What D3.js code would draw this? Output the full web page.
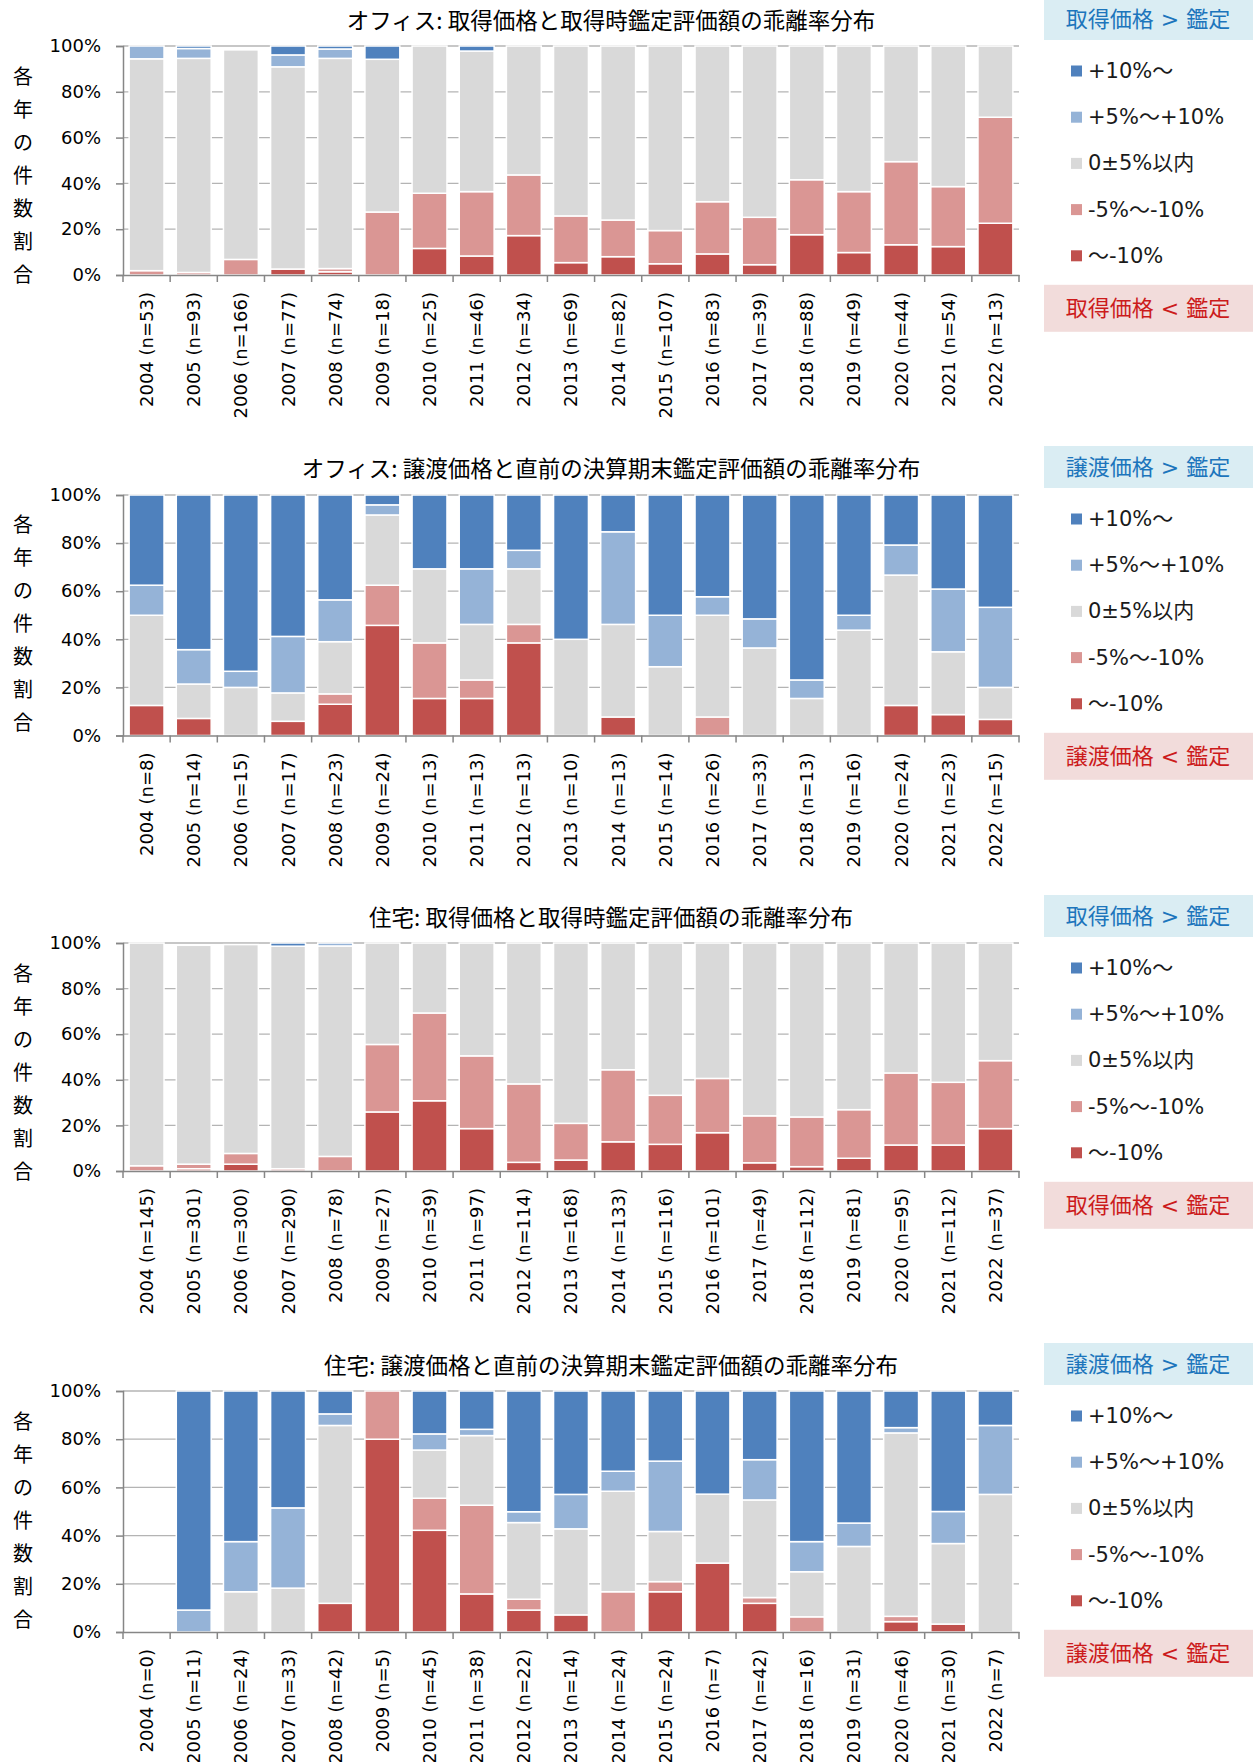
<!DOCTYPE html>
<html><head><meta charset="utf-8">
<script src="https://cdn.jsdelivr.net/npm/d3@7"></script>
<style>
body{margin:0;background:#fff;}
svg{display:block;}
</style></head><body>
<svg id="chart" width="1255" height="1762"></svg>
<script>
// ---------- shared data ----------
const years = ["2004","2005","2006","2007","2008","2009","2010","2011","2012","2013","2014","2015","2016","2017","2018","2019","2020","2021","2022"];
const seriesKeys = ["below10","minus5to10","within5","plus5to10","above10"];
const seriesLabels = ["～-10%","-5%～-10%","0±5%以内","+5%～+10%","+10%～"];
const seriesColors = ["#c0504d","#da9694","#d9d9d9","#95b3d7","#4f81bd"];
const yTicks = [0,20,40,60,80,100];
const yAxisTitle = "各年の件数割合";

// ---------- panel 1: office acquisition ----------
const p1Title = "オフィス: 取得価格と取得時鑑定評価額の乖離率分布";
const p1Upper = "取得価格 > 鑑定";
const p1Lower = "取得価格 < 鑑定";
const p1N = [53,93,166,77,74,18,25,46,34,69,82,107,83,39,88,49,44,54,13];
const p1Below10 = [0,0,0,2.6,1.4,0,11.6,8.3,17.2,5.4,8.0,4.9,9.2,4.5,17.6,9.8,13.2,12.4,22.6];
const p1Minus5to10 = [1.9,1.1,6.8,0,1.4,27.5,24.1,28.1,26.5,20.4,16.0,14.5,22.8,20.7,24.0,26.6,36.3,26.2,46.3];
const p1Within5 = [92.5,93.5,91.5,88.3,91.8,66.7,64.3,61.4,56.3,74.2,76.0,80.6,68.0,74.8,58.4,63.6,50.5,61.4,31.1];
const p1Plus5to10 = [5.6,4.3,0,5.2,4.1,0,0,0,0,0,0,0,0,0,0,0,0,0,0];
const p1Above10 = [0,1.1,0,3.9,1.3,5.8,0,2.2,0,0,0,0,0,0,0,0,0,0,0];

// ---------- panel 2: office disposition ----------
const p2Title = "オフィス: 譲渡価格と直前の決算期末鑑定評価額の乖離率分布";
const p2Upper = "譲渡価格 > 鑑定";
const p2Lower = "譲渡価格 < 鑑定";
const p2N = [8,14,15,17,23,24,13,13,13,10,13,14,26,33,13,16,24,23,15];
const p2Below10 = [12.5,7.1,0,5.9,13.0,45.8,15.4,15.4,38.5,0,7.7,0,0,0,0,0,12.5,8.7,6.7];
const p2Minus5to10 = [0,0,0,0,4.3,16.7,23.1,7.7,7.7,0,0,0,7.7,0,0,0,0,0,0];
const p2Within5 = [37.5,14.3,20.0,11.8,21.7,29.2,30.8,23.1,23.1,40.0,38.5,28.6,42.3,36.4,15.4,43.8,54.2,26.1,13.3];
const p2Plus5to10 = [12.5,14.3,6.7,23.5,17.4,4.2,0,23.1,7.7,0,38.5,21.4,7.7,12.1,7.7,6.2,12.5,26.1,33.3];
const p2Above10 = [37.5,64.3,73.3,58.8,43.6,4.1,30.7,30.7,23.0,60.0,15.3,50.0,42.3,51.5,76.9,50.0,20.8,39.1,46.7];

// ---------- panel 3: residential acquisition ----------
const p3Title = "住宅: 取得価格と取得時鑑定評価額の乖離率分布";
const p3Upper = "取得価格 > 鑑定";
const p3Lower = "取得価格 < 鑑定";
const p3N = [145,301,300,290,78,27,39,97,114,168,133,116,101,49,112,81,95,112,37];
const p3Below10 = [0,1.0,3.0,0,0,25.9,30.8,18.6,3.8,4.8,12.8,11.7,16.8,3.6,1.9,5.6,11.4,11.4,18.6];
const p3Minus5to10 = [2.3,2.0,4.7,1.0,6.4,29.6,38.5,31.9,34.4,16.1,31.6,21.5,23.8,20.6,21.8,21.3,31.6,27.5,29.8];
const p3Within5 = [97.7,96.0,91.6,97.6,92.3,44.5,30.7,49.5,61.8,79.1,55.6,66.8,59.4,75.8,76.3,73.1,57.0,61.1,51.6];
const p3Plus5to10 = [0,0,0,0,1.3,0,0,0,0,0,0,0,0,0,0,0,0,0,0];
const p3Above10 = [0,0,0,1.4,0,0,0,0,0,0,0,0,0,0,0,0,0,0,0];

// ---------- panel 4: residential disposition ----------
const p4Title = "住宅: 譲渡価格と直前の決算期末鑑定評価額の乖離率分布";
const p4Upper = "譲渡価格 > 鑑定";
const p4Lower = "譲渡価格 < 鑑定";
const p4N = [0,11,24,33,42,5,45,38,22,14,24,24,7,42,16,31,46,30,7];
const p4Below10 = [0,0,0,0,11.9,80,42.2,15.8,9.1,7.1,0,16.7,28.6,11.9,0,0,4.3,3.3,0];
const p4Minus5to10 = [0,0,0,0,0,20,13.3,36.8,4.5,0,16.7,4.2,0,2.4,6.3,0,2.2,0,0];
const p4Within5 = [0,0,16.7,18.2,73.8,0,20.0,28.9,31.8,35.7,41.7,20.8,28.6,40.5,18.7,35.5,76.1,33.4,57.1];
const p4Plus5to10 = [0,9.1,20.8,33.3,4.8,0,6.7,2.6,4.5,14.3,8.3,29.2,0,16.7,12.5,9.7,2.2,13.3,28.6];
const p4Above10 = [0,90.9,62.5,48.5,9.5,0,17.8,15.9,50.1,42.9,33.3,29.1,42.8,28.5,62.5,54.8,15.2,50.0,14.3];

// ---------- layout (positions only) ----------
const X0 = 123, X1 = 1019;
const layouts = [
  {titleY: 19,   top: 46,   bottom: 275},
  {titleY: 467,  top: 495,  bottom: 735.5},
  {titleY: 916,  top: 943,  bottom: 1171},
  {titleY: 1364, top: 1391, bottom: 1632}
];
const panels = [
  {title:p1Title, upper:p1Upper, lower:p1Lower, n:p1N, series:[p1Below10,p1Minus5to10,p1Within5,p1Plus5to10,p1Above10]},
  {title:p2Title, upper:p2Upper, lower:p2Lower, n:p2N, series:[p2Below10,p2Minus5to10,p2Within5,p2Plus5to10,p2Above10]},
  {title:p3Title, upper:p3Upper, lower:p3Lower, n:p3N, series:[p3Below10,p3Minus5to10,p3Within5,p3Plus5to10,p3Above10]},
  {title:p4Title, upper:p4Upper, lower:p4Lower, n:p4N, series:[p4Below10,p4Minus5to10,p4Within5,p4Plus5to10,p4Above10]}
];

const svg = d3.select("#chart");
const LATIN = "'DejaVu Sans','Noto Sans CJK JP',sans-serif";
const CJK = "'Noto Sans CJK JP','DejaVu Sans',sans-serif";
const AXIS = "#868686";

function drawPanel(p, L) {
  const g = svg.append("g");
  const rows = years.map((yr, i) => {
    const r = {year: yr};
    seriesKeys.forEach((k, j) => r[k] = p.series[j][i]);
    return r;
  });
  const stacked = d3.stack().keys(seriesKeys)(rows);
  const x = d3.scaleBand().domain(years).range([X0, X1]).paddingInner(0.26).paddingOuter(0.13);
  const y = d3.scaleLinear().domain([0, 100]).range([L.bottom, L.top]).clamp(true);

  // title
  g.append("text").attr("x", 611).attr("y", L.titleY).attr("text-anchor", "middle")
    .attr("dominant-baseline", "central").attr("font-family", CJK).attr("font-size", 22.5)
    .attr("fill", "#000").text(p.title);

  // gridlines
  g.append("g").selectAll("line").data(yTicks.filter(t => t > 0)).join("line")
    .attr("x1", X0).attr("x2", X1).attr("y1", d => y(d)).attr("y2", d => y(d))
    .attr("stroke", "#b4b4b4").attr("stroke-width", 1.3);

  // bars
  g.append("g").selectAll("g").data(stacked).join("g")
    .attr("fill", (d, i) => seriesColors[i])
    .selectAll("rect").data(d => d.filter(s => s[1] - s[0] > 0)).join("rect")
    .attr("x", d => x(d.data.year)).attr("width", x.bandwidth())
    .attr("y", d => y(d[1])).attr("height", d => y(d[0]) - y(d[1]))
    .attr("stroke", "#fff").attr("stroke-width", 1.5);

  // y axis
  const ya = g.append("g").attr("transform", `translate(${X0},0)`)
    .call(d3.axisLeft(y).tickValues(yTicks).tickFormat(d => d + "%").tickSize(7).tickPadding(15));
  ya.select(".domain").attr("stroke", AXIS).attr("stroke-width", 1.5);
  ya.selectAll(".tick line").attr("stroke", AXIS).attr("stroke-width", 1.5);
  ya.selectAll("text").attr("font-family", LATIN).attr("font-size", 18).attr("fill", "#000");

  // x axis
  const xa = g.append("g").attr("transform", `translate(0,${L.bottom})`)
    .call(d3.axisBottom(x).tickSize(0).tickSizeOuter(0).tickFormat((d, i) => `${d} (n=${p.n[i]})`));
  xa.select(".domain").attr("stroke", AXIS).attr("stroke-width", 1.5);
  xa.selectAll("text").attr("transform", "rotate(-90)").attr("x", -17).attr("y", 0)
    .attr("dy", "0.36em").attr("text-anchor", "end")
    .attr("font-family", LATIN).attr("font-size", 18).attr("fill", "#000");
  xa.append("g").selectAll("line").data(d3.range(years.length + 1)).join("line")
    .attr("x1", i => X0 + i * x.step()).attr("x2", i => X0 + i * x.step())
    .attr("y1", 0).attr("y2", 7).attr("stroke", AXIS).attr("stroke-width", 1.5);

  // vertical y-axis title
  g.append("g").selectAll("text").data(Array.from(yAxisTitle)).join("text")
    .attr("x", 23).attr("y", (d, i) => L.titleY + 56 + i * 33)
    .attr("text-anchor", "middle").attr("dominant-baseline", "central")
    .attr("font-family", CJK).attr("font-size", 20).attr("fill", "#000").text(d => d);

  // legend
  const item0 = L.titleY + 52, step = 46.2;
  const lg = g.append("g");
  lg.append("rect").attr("x", 1044).attr("y", item0 - 73).attr("width", 209).attr("height", 42).attr("fill", "#daedf3");
  lg.append("text").attr("x", 1148).attr("y", item0 - 52).attr("text-anchor", "middle")
    .attr("dominant-baseline", "central").attr("font-family", LATIN).attr("font-size", 22)
    .attr("fill", "#1c75bc").text(p.upper);
  const order = d3.range(seriesKeys.length).reverse();
  order.forEach((si, k) => {
    const cy = item0 + k * step;
    lg.append("rect").attr("x", 1071).attr("y", cy - 5.5).attr("width", 11).attr("height", 11).attr("fill", seriesColors[si]);
    lg.append("text").attr("x", 1088).attr("y", cy).attr("dominant-baseline", "central")
      .attr("font-family", LATIN).attr("font-size", 21).attr("fill", "#1a1a1a").text(seriesLabels[si]);
  });
  const last = item0 + 4 * step;
  lg.append("rect").attr("x", 1044).attr("y", last + 29).attr("width", 209).attr("height", 47).attr("fill", "#f2dcdb");
  lg.append("text").attr("x", 1148).attr("y", last + 53).attr("text-anchor", "middle")
    .attr("dominant-baseline", "central").attr("font-family", LATIN).attr("font-size", 22)
    .attr("fill", "#cc1b1b").text(p.lower);
}

panels.forEach((p, i) => drawPanel(p, layouts[i]));
</script>
</body></html>
